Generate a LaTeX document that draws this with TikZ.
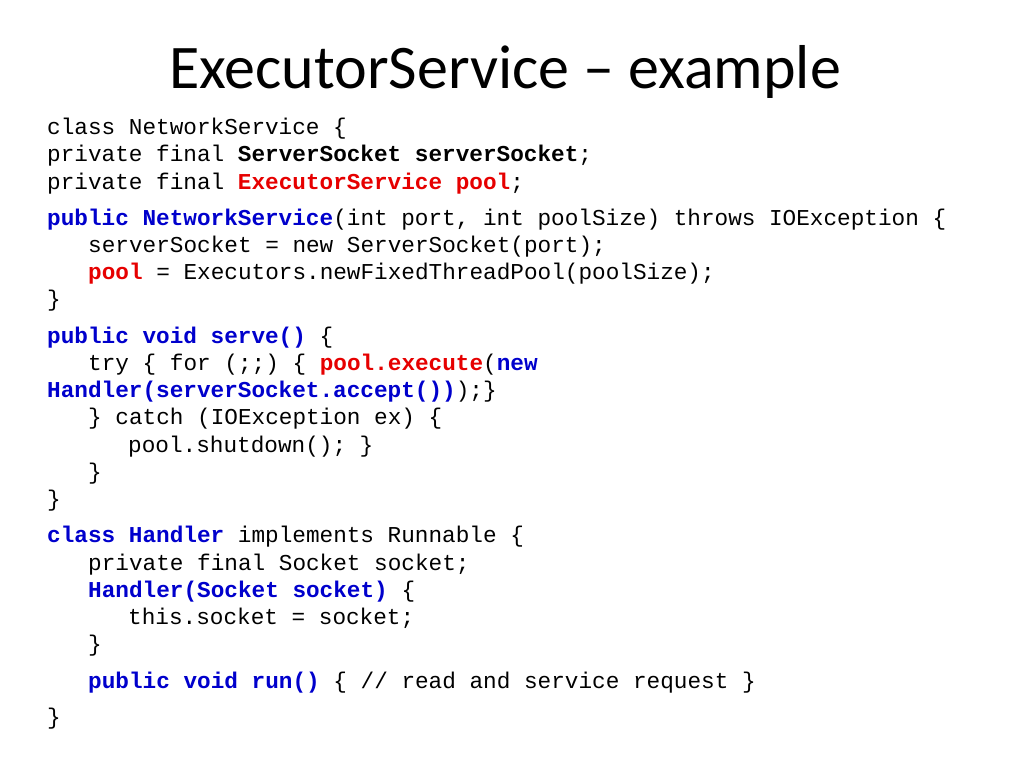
\documentclass[tikz,border=0pt]{standalone}
\usepackage{fontspec}
\setmainfont{Carlito}
\setmonofont{Liberation Mono}
\definecolor{kwblue}{RGB}{0,0,204}
\definecolor{hlred}{RGB}{230,0,0}
\newcommand{\kw}[1]{\textcolor{kwblue}{\textbf{#1}}}
\newcommand{\hl}[1]{\textcolor{hlred}{\textbf{#1}}}
\newcommand{\bt}[1]{\textbf{#1}}
\tikzset{
  codeline/.style={anchor=base west, inner sep=0pt, font=\fontsize{22.7}{26}\ttfamily},
  slidetitle/.style={anchor=base, inner sep=0pt, font=\fontsize{62}{68}\selectfont}
}
\begin{document}
\begin{tikzpicture}[x=1pt,y=-1pt]
    \useasboundingbox (0,0) rectangle (1024,768);

    \node[slidetitle] (title) at (505,88) {ExecutorService -- example};

    \node[codeline] (l1) at (47,134) {class NetworkService \{};
    \node[codeline] (l2) at (47,161) {private final \bt{ServerSocket serverSocket};};
    \node[codeline] (l3) at (47,189) {private final \hl{ExecutorService pool};};
    \node[codeline] (l4) at (47,225) {\kw{public NetworkService}(int port, int poolSize) throws IOException \{};
    \node[codeline] (l5) at (88,252) {serverSocket = new ServerSocket(port);};
    \node[codeline] (l6) at (88,279) {\hl{pool} = Executors.newFixedThreadPool(poolSize);};
    \node[codeline] (l7) at (47,306) {\}};
    \node[codeline] (l8) at (47,343) {\kw{public void serve()} \{};
    \node[codeline] (l9) at (88,370) {try \{ for (;;) \{ \hl{pool.execute}(\kw{new}};
    \node[codeline] (l10) at (47,397) {\kw{Handler(serverSocket.accept())});\}};
    \node[codeline] (l11) at (88,424) {\} catch (IOException ex) \{};
    \node[codeline] (l12) at (128,452) {pool.shutdown(); \}};
    \node[codeline] (l13) at (88,479) {\}};
    \node[codeline] (l14) at (47,506) {\}};
    \node[codeline] (l15) at (47,542) {\kw{class Handler} implements Runnable \{};
    \node[codeline] (l16) at (88,570) {private final Socket socket;};
    \node[codeline] (l17) at (88,597) {\kw{Handler(Socket socket)} \{};
    \node[codeline] (l18) at (128,624) {this.socket = socket;};
    \node[codeline] (l19) at (88,651) {\}};
    \node[codeline] (l20) at (88,688) {\kw{public void run()} \{ // read and service request \}};
    \node[codeline] (l21) at (47,724) {\}};
\end{tikzpicture}
\end{document}
